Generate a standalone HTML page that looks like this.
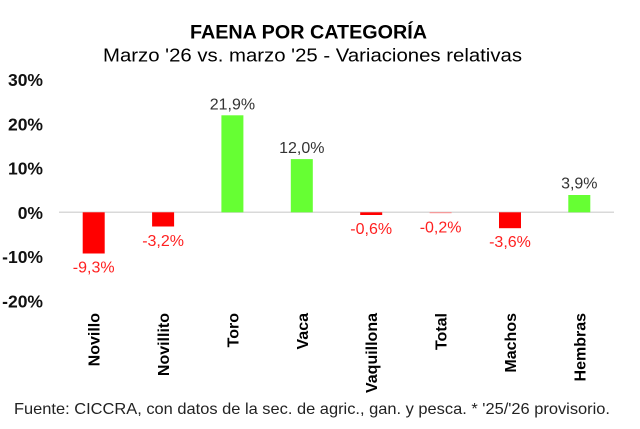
<!DOCTYPE html>
<html>
<head>
<meta charset="utf-8">
<style>
  html, body { margin: 0; padding: 0; background: #ffffff; }
  body { width: 640px; height: 429px; overflow: hidden; }
  svg { display: block; }
  text { font-family: "Liberation Sans", Arial, sans-serif; }
</style>
</head>
<body>
<svg width="640" height="429" viewBox="0 0 640 429" xmlns="http://www.w3.org/2000/svg">
  <rect x="0" y="0" width="640" height="429" fill="#ffffff"/>

  <!-- Titles -->
  <text x="190" y="38.3" font-size="19" font-weight="bold" fill="#000" textLength="237" lengthAdjust="spacingAndGlyphs">FAENA POR CATEGORÍA</text>
  <text x="103" y="61.7" font-size="18.5" fill="#000" textLength="419" lengthAdjust="spacingAndGlyphs">Marzo '26 vs. marzo '25 - Variaciones relativas</text>

  <!-- Y axis labels -->
  <g font-size="17.5" font-weight="bold" fill="#111" text-anchor="end">
    <text x="43" y="86">30%</text>
    <text x="43" y="130.3">20%</text>
    <text x="43" y="174.6">10%</text>
    <text x="43" y="218.9">0%</text>
    <text x="43" y="263.2">-10%</text>
    <text x="43" y="307.5">-20%</text>
  </g>

  <!-- Zero line -->
  <line x1="59" y1="212.3" x2="614" y2="212.3" stroke="#d9d9d9" stroke-width="1.5"/>

  <!-- Bars -->
  <g>
    <rect x="82.7" y="212.3" width="22" height="41.2" fill="#ff0000"/>
    <rect x="152.1" y="212.3" width="22" height="14.2" fill="#ff0000"/>
    <rect x="221.4" y="115.3" width="22" height="97" fill="#66ff33"/>
    <rect x="290.8" y="159.1" width="22" height="53.2" fill="#66ff33"/>
    <rect x="360.2" y="212.3" width="22" height="2.7" fill="#ff0000"/>
    <rect x="429.6" y="212.3" width="22" height="0.9" fill="#ff8080"/>
    <rect x="499" y="212.3" width="22" height="15.9" fill="#ff0000"/>
    <rect x="568.3" y="195" width="22" height="17.3" fill="#66ff33"/>
  </g>

  <!-- Data labels -->
  <g font-size="16" text-anchor="middle">
    <text x="93.7" y="272.5" fill="#ff2020">-9,3%</text>
    <text x="163.1" y="246" fill="#ff2020">-3,2%</text>
    <text x="232.4" y="109.3" fill="#333">21,9%</text>
    <text x="301.8" y="153" fill="#333">12,0%</text>
    <text x="371.2" y="234" fill="#ff2020">-0,6%</text>
    <text x="440.6" y="232.5" fill="#ff2020">-0,2%</text>
    <text x="510" y="247" fill="#ff2020">-3,6%</text>
    <text x="579.3" y="188.5" fill="#333">3,9%</text>
  </g>

  <!-- Category labels -->
  <g font-size="16" font-weight="bold" fill="#000" text-anchor="end">
    <text transform="translate(99.7,313) rotate(-90)">Novillo</text>
    <text transform="translate(169.1,313) rotate(-90)">Novillito</text>
    <text transform="translate(238.4,313) rotate(-90)">Toro</text>
    <text transform="translate(307.8,313) rotate(-90)">Vaca</text>
    <text transform="translate(377.2,313) rotate(-90)">Vaquillona</text>
    <text transform="translate(446.6,313) rotate(-90)">Total</text>
    <text transform="translate(516,313) rotate(-90)">Machos</text>
    <text transform="translate(585.3,313) rotate(-90)">Hembras</text>
  </g>

  <!-- Footer -->
  <text x="14" y="414" font-size="16" fill="#222" textLength="596" lengthAdjust="spacingAndGlyphs">Fuente: CICCRA, con datos de la sec. de agric., gan. y pesca. * '25/'26 provisorio.</text>
</svg>
</body>
</html>
